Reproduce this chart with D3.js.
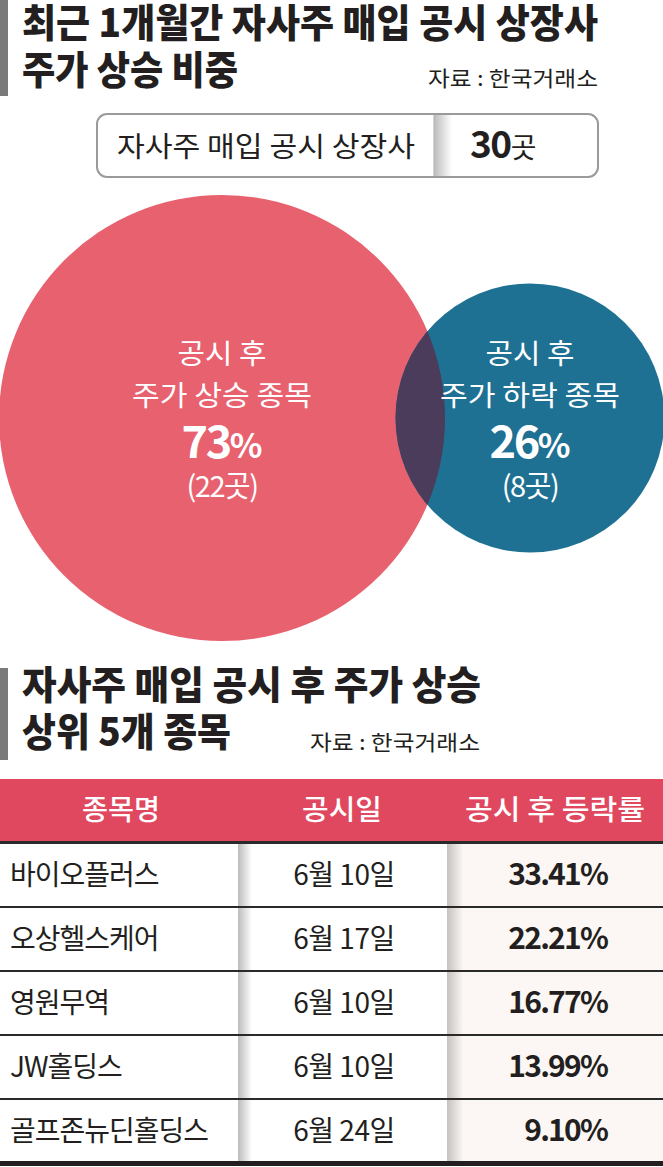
<!DOCTYPE html>
<html>
<head>
<meta charset="utf-8">
<script src="https://cdn.jsdelivr.net/npm/d3@7"></script>
<style>
  body { margin: 0; background: #fff; }
  svg { display: block; }
  text { font-family: "Noto Sans CJK KR", "Noto Sans", sans-serif; fill: #231f20; }
</style>
</head>
<body>
<div id="chart"></div>
<script>
const width = 663, height = 1167;

// data
const groupLines = [["공시 후", "주가 상승 종목"], ["공시 후", "주가 하락 종목"]];
const shares = [73, 26];
const counts = [22, 8];
const totalCount = 30;

const stockNames = ["바이오플러스", "오상헬스케어", "영원무역", "JW홀딩스", "골프존뉴딘홀딩스"];
const announceDates = ["6월 10일", "6월 17일", "6월 10일", "6월 10일", "6월 24일"];
const changes = [33.41, 22.21, 16.77, 13.99, 9.10];
const headers = ["종목명", "공시일", "공시 후 등락률"];

const red = "#e8616f", blue = "#1f7193", overlap = "#4b3c5c", headRed = "#e0485f";

var svg = d3.select("#chart").append("svg")
  .attr("width", width).attr("height", height);
var defs = svg.append("defs");

function shadow(id, from, to) {
  var g = defs.append("linearGradient").attr("id", id);
  g.append("stop").attr("offset", "0%").attr("stop-color", from);
  g.append("stop").attr("offset", "100%").attr("stop-color", to);
}
shadow("sh1", "#bcbcbc", "#ffffff");
shadow("sh2", "#c4c1bf", "#fcf7f4");

// title block helper
function title(lines, y0, barTop, barBottom) {
  svg.append("rect").attr("x", 0).attr("y", barTop).attr("width", 8)
    .attr("height", barBottom - barTop).attr("fill", "#7a7a7a");
  lines.forEach(function (l, i) {
    svg.append("text").attr("x", 22).attr("y", y0 + i * 47)
      .attr("font-size", 39).attr("font-weight", 900)
      .attr("textLength", l.w).attr("lengthAdjust", "spacingAndGlyphs")
      .text(l.t);
  });
}
function source(x, y) {
  svg.append("text").attr("x", x).attr("y", y).attr("text-anchor", "end")
    .attr("font-size", 21).attr("textLength", 170).attr("lengthAdjust", "spacingAndGlyphs")
    .text("자료 : 한국거래소");
}

title([{ t: "최근 1개월간 자사주 매입 공시 상장사", w: 576 }, { t: "주가 상승 비중", w: 216 }], 37, 0, 96);
source(598, 86);

// total box
svg.append("rect").attr("x", 97).attr("y", 114).attr("width", 501).attr("height", 63)
  .attr("rx", 10).attr("fill", "#fff").attr("stroke", "#9a9a9a").attr("stroke-width", 2);
svg.append("rect").attr("x", 434).attr("y", 115).attr("width", 18).attr("height", 61)
  .attr("fill", "url(#sh1)");
svg.append("line").attr("x1", 434).attr("x2", 434).attr("y1", 115).attr("y2", 176)
  .attr("stroke", "#b0b0b0").attr("stroke-width", 1);
svg.append("text").attr("x", 266).attr("y", 157).attr("text-anchor", "middle")
  .attr("font-size", 28).attr("textLength", 298).attr("lengthAdjust", "spacingAndGlyphs")
  .text("자사주 매입 공시 상장사");
var tot = svg.append("text").attr("x", 470).attr("y", 158);
tot.append("tspan").attr("font-size", 37).attr("font-weight", 700).attr("letter-spacing", -1.5).text(totalCount);
tot.append("tspan").attr("font-size", 28).text("곳");

// circles: area proportional to count
var r = d3.scaleSqrt().domain([0, d3.max(counts)]).range([0, 223]);
var cx = [222, 530], cy = 418;

defs.append("clipPath").attr("id", "clipRed").append("circle")
  .attr("cx", cx[0]).attr("cy", cy).attr("r", r(counts[0]));

svg.selectAll("circle.grp").data(counts).enter().append("circle")
  .attr("class", "grp")
  .attr("cx", function (d, i) { return cx[i]; })
  .attr("cy", cy)
  .attr("r", function (d) { return r(d); })
  .attr("fill", function (d, i) { return i === 0 ? red : blue; });

svg.append("circle").attr("cx", cx[1]).attr("cy", cy).attr("r", r(counts[1]))
  .attr("fill", overlap).attr("clip-path", "url(#clipRed)");

var lab = svg.selectAll("g.lab").data(shares).enter().append("g")
  .attr("class", "lab")
  .attr("transform", function (d, i) { return "translate(" + cx[i] + ",0)"; });
lab.append("text").attr("y", 364).attr("text-anchor", "middle").attr("font-size", 28)
  .attr("textLength", 89).attr("lengthAdjust", "spacingAndGlyphs").style("fill", "#fff")
  .text(function (d, i) { return groupLines[i][0]; });
lab.append("text").attr("y", 406).attr("text-anchor", "middle").attr("font-size", 28)
  .attr("textLength", 180).attr("lengthAdjust", "spacingAndGlyphs").style("fill", "#fff")
  .text(function (d, i) { return groupLines[i][1]; });
var pct = lab.append("text").attr("y", 458).attr("text-anchor", "middle").style("fill", "#fff");
pct.append("tspan").attr("font-size", 45).attr("font-weight", 700).attr("letter-spacing", -2.5)
  .style("fill", "#fff").text(function (d) { return d; });
pct.append("tspan").attr("font-size", 34).attr("font-weight", 700).style("fill", "#fff").text("%");
lab.append("text").attr("y", 497).attr("text-anchor", "middle").attr("font-size", 29)
  .attr("letter-spacing", -1.5).style("fill", "#fff")
  .text(function (d, i) { return "(" + counts[i] + "곳)"; });

// second title
title([{ t: "자사주 매입 공시 후 주가 상승", w: 459 }, { t: "상위 5개 종목", w: 209 }], 699, 668, 760);
source(480, 750);

// table
var colX = [0, 238, 447, width];
var rows = d3.scaleBand().domain(d3.range(stockNames.length)).range([843, 1163]);

svg.append("rect").attr("x", 0).attr("y", 779).attr("width", width).attr("height", 63).attr("fill", headRed);
svg.append("rect").attr("x", colX[2]).attr("y", 843).attr("width", width - colX[2]).attr("height", 320).attr("fill", "#fcf7f4");
svg.append("rect").attr("x", colX[1]).attr("y", 843).attr("width", 14).attr("height", 320).attr("fill", "url(#sh1)");
svg.append("rect").attr("x", colX[2]).attr("y", 843).attr("width", 16).attr("height", 320).attr("fill", "url(#sh2)");

var headX = [121, 342, 555], headW = [78, 80, 180];
svg.selectAll("text.head").data(headers).enter().append("text")
  .attr("class", "head").attr("x", function (d, i) { return headX[i]; }).attr("y", 820)
  .attr("text-anchor", "middle").attr("font-size", 28).attr("font-weight", 500)
  .attr("textLength", function (d, i) { return headW[i]; }).attr("lengthAdjust", "spacingAndGlyphs")
  .style("fill", "#fff").text(function (d) { return d; });

svg.selectAll("line.sep").data(d3.range(1, stockNames.length)).enter().append("line")
  .attr("class", "sep").attr("x1", 0).attr("x2", width)
  .attr("y1", function (d) { return rows(d); }).attr("y2", function (d) { return rows(d); })
  .attr("stroke", "#2a2a2a").attr("stroke-width", 2);
svg.append("line").attr("x1", 0).attr("x2", width).attr("y1", 842.5).attr("y2", 842.5)
  .attr("stroke", "#2a2a2a").attr("stroke-width", 3);
svg.append("line").attr("x1", 0).attr("x2", width).attr("y1", 1163.5).attr("y2", 1163.5)
  .attr("stroke", "#231f20").attr("stroke-width", 5);

var row = svg.selectAll("g.row").data(changes).enter().append("g")
  .attr("class", "row")
  .attr("transform", function (d, i) { return "translate(0," + (rows(i) + rows.bandwidth() / 2 + 10) + ")"; });
row.append("text").attr("x", 10).attr("font-size", 28).attr("letter-spacing", -1)
  .text(function (d, i) { return stockNames[i]; });
row.append("text").attr("x", 344).attr("text-anchor", "middle").attr("font-size", 28)
  .attr("letter-spacing", -0.5)
  .text(function (d, i) { return announceDates[i]; });
row.append("text").attr("x", 607).attr("text-anchor", "end").attr("font-size", 30)
  .attr("font-weight", 700).attr("letter-spacing", -1.8)
  .text(function (d) { return d3.format(".2f")(d) + "%"; });
</script>
</body>
</html>
